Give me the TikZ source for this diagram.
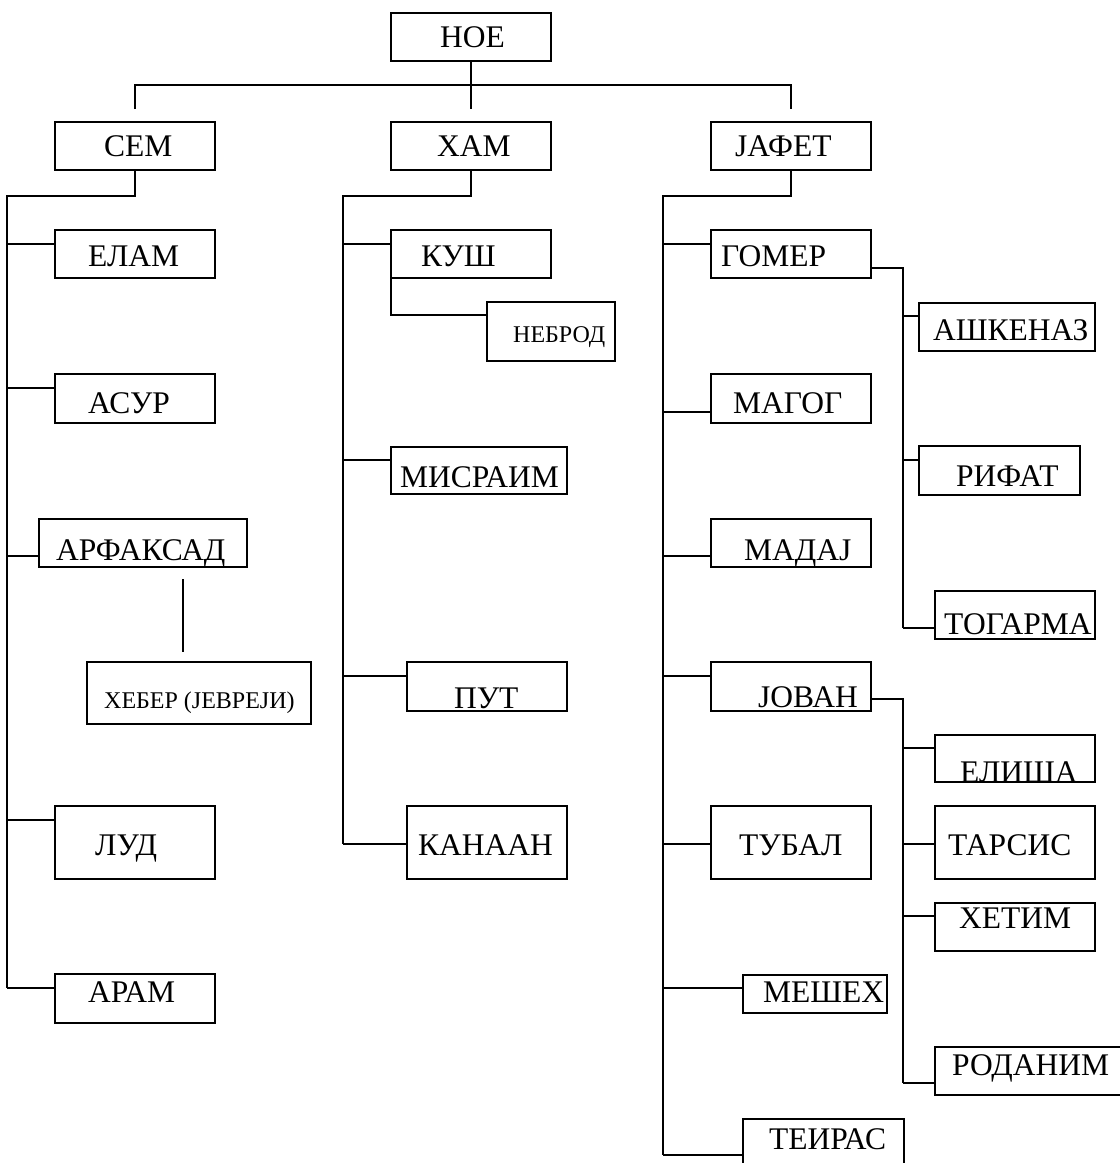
\documentclass[tikz,border=0pt]{standalone}
\usepackage{fontspec}
\setmainfont{Liberation Serif}
\begin{document}
\begin{tikzpicture}[x=1pt,y=-1pt,
  box/.style={draw,line width=2pt,inner sep=0pt,outer sep=0pt},
  lbl/.style={anchor=base west,inner sep=0pt,font=\fontsize{31.5}{36}\selectfont},
  slbl/.style={anchor=base west,inner sep=0pt,font=\fontsize{24}{28}\selectfont},
  conn/.style={line width=2pt}]
\useasboundingbox (0,0) rectangle (1120,1163);
% boxes
\node[box,minimum width=160,minimum height=48] (noe) at (471,37) {};
\node[box,minimum width=160,minimum height=48] (sem) at (135,146) {};
\node[box,minimum width=160,minimum height=48] (ham) at (471,146) {};
\node[box,minimum width=160,minimum height=48] (jafet) at (791,146) {};
\node[box,minimum width=160,minimum height=48] (elam) at (135,254) {};
\node[box,minimum width=160,minimum height=48] (kush) at (471,254) {};
\node[box,minimum width=160,minimum height=48] (gomer) at (791,254) {};
\node[box,minimum width=128,minimum height=59] (nebrod) at (551,331.5) {};
\node[box,minimum width=176,minimum height=48] (ashkenaz) at (1007,327) {};
\node[box,minimum width=160,minimum height=49] (asur) at (135,398.5) {};
\node[box,minimum width=160,minimum height=49] (magog) at (791,398.5) {};
\node[box,minimum width=176,minimum height=47] (misraim) at (479,470.5) {};
\node[box,minimum width=161,minimum height=49] (rifat) at (999.5,470.5) {};
\node[box,minimum width=208,minimum height=48] (arfaksad) at (143,543) {};
\node[box,minimum width=160,minimum height=48] (madaj) at (791,543) {};
\node[box,minimum width=160,minimum height=48] (togarma) at (1015,615) {};
\node[box,minimum width=224,minimum height=62] (heber) at (199,693) {};
\node[box,minimum width=160,minimum height=49] (put) at (487,686.5) {};
\node[box,minimum width=160,minimum height=49] (jovan) at (791,686.5) {};
\node[box,minimum width=160,minimum height=47] (elisha) at (1015,758.5) {};
\node[box,minimum width=160,minimum height=73] (lud) at (135,842.5) {};
\node[box,minimum width=160,minimum height=73] (kanaan) at (487,842.5) {};
\node[box,minimum width=160,minimum height=73] (tubal) at (791,842.5) {};
\node[box,minimum width=160,minimum height=73] (tarsis) at (1015,842.5) {};
\node[box,minimum width=160,minimum height=48] (hetim) at (1015,927) {};
\node[box,minimum width=160,minimum height=49] (aram) at (135,998.5) {};
\node[box,minimum width=144,minimum height=38] (meshekh) at (815,994) {};
\node[box,minimum width=190,minimum height=48] (rodanim) at (1030,1071) {};
\node[box,minimum width=161,minimum height=71] (teiras) at (823.5,1154.5) {};
% labels
\node[lbl] (t-noe) at (440,47) {НОЕ};
\node[lbl] (t-sem) at (104,156) {СЕМ};
\node[lbl] (t-ham) at (437,156) {ХАМ};
\node[lbl] (t-jafet) at (735,156) {ЈАФЕТ};
\node[lbl] (t-elam) at (88,266) {ЕЛАМ};
\node[lbl] (t-kush) at (421,266) {КУШ};
\node[lbl] (t-gomer) at (721,266) {ГОМЕР};
\node[slbl] (t-nebrod) at (513,342) {НЕБРОД};
\node[lbl] (t-ashkenaz) at (933,340) {АШКЕНАЗ};
\node[lbl] (t-asur) at (88,413) {АСУР};
\node[lbl] (t-magog) at (733,413) {МАГОГ};
\node[lbl] (t-misraim) at (400,487) {МИСРАИМ};
\node[lbl] (t-rifat) at (956,486) {РИФАТ};
\node[lbl] (t-arfaksad) at (56,560) {АРФАКСАД};
\node[lbl] (t-madaj) at (744,560) {МАДАЈ};
\node[lbl] (t-togarma) at (944,634) {ТОГАРМА};
\node[slbl] (t-heber) at (104,708) {ХЕБЕР (ЈЕВРЕЈИ)};
\node[lbl] (t-put) at (454,708) {ПУТ};
\node[lbl] (t-jovan) at (758,707) {ЈОВАН};
\node[lbl] (t-elisha) at (960,782) {ЕЛИША};
\node[lbl] (t-lud) at (95,855) {ЛУД};
\node[lbl] (t-kanaan) at (418,855) {КАНААН};
\node[lbl] (t-tubal) at (739,855) {ТУБАЛ};
\node[lbl] (t-tarsis) at (948,855) {ТАРСИС};
\node[lbl] (t-hetim) at (959,928) {ХЕТИМ};
\node[lbl] (t-aram) at (88,1002) {АРАМ};
\node[lbl] (t-meshekh) at (763,1002) {МЕШЕХ};
\node[lbl] (t-rodanim) at (952,1075) {РОДАНИМ};
\node[lbl] (t-teiras) at (769,1149) {ТЕИРАС};
% coordinates
\coordinate (bus) at (471,85);
\coordinate (semtick) at (135,109);
\coordinate (hamtick) at (471,109);
\coordinate (jaftick) at (791,109);
\coordinate (sspine) at (7,196);
\coordinate (hspine) at (343,196);
\coordinate (jspine) at (663,196);
\coordinate (gspine) at (903,268);
\coordinate (vspine) at (903,699);
\coordinate (a1) at (183,579);
\coordinate (a2) at (183,652);
% top connectors
\draw[conn] (noe.south) -- (hamtick);
\draw[conn] (semtick) |- (bus) -| (jaftick);
% SEM
\draw[conn] (sem.south) |- (sspine) -- (sspine |- 0,988);
\draw[conn] (sspine |- 0,244) -- (elam.west |- 0,244);
\draw[conn] (sspine |- 0,388) -- (asur.west |- 0,388);
\draw[conn] (sspine |- 0,556) -- (arfaksad.west |- 0,556);
\draw[conn] (sspine |- 0,820) -- (lud.west |- 0,820);
\draw[conn] (sspine |- 0,988) -- (aram.west |- 0,988);
\draw[line width=1.6pt] (a1) -- (a2);
% HAM
\draw[conn] (ham.south) |- (hspine) -- (hspine |- 0,844);
\draw[conn] (hspine |- 0,244) -- (kush.west |- 0,244);
\draw[conn] (kush.south west) |- (nebrod.west |- 0,315);
\draw[conn] (hspine |- 0,460) -- (misraim.west |- 0,460);
\draw[conn] (hspine |- 0,676) -- (put.west |- 0,676);
\draw[conn] (hspine |- 0,844) -- (kanaan.west |- 0,844);
% JAFET
\draw[conn] (jafet.south) |- (jspine) -- (jspine |- 0,1155);
\draw[conn] (jspine |- 0,244) -- (gomer.west |- 0,244);
\draw[conn] (jspine |- 0,412) -- (magog.west |- 0,412);
\draw[conn] (jspine |- 0,556) -- (madaj.west |- 0,556);
\draw[conn] (jspine |- 0,676) -- (jovan.west |- 0,676);
\draw[conn] (jspine |- 0,844) -- (tubal.west |- 0,844);
\draw[conn] (jspine |- 0,988) -- (meshekh.west |- 0,988);
\draw[conn] (jspine |- 0,1155) -- (teiras.west |- 0,1155);
% GOMER
\draw[conn] (gomer.east |- gspine) -- (gspine) -- (gspine |- 0,628);
\draw[conn] (gspine |- 0,316) -- (ashkenaz.west |- 0,316);
\draw[conn] (gspine |- 0,460) -- (rifat.west |- 0,460);
\draw[conn] (gspine |- 0,628) -- (togarma.west |- 0,628);
% JOVAN
\draw[conn] (jovan.east |- vspine) -- (vspine) -- (vspine |- 0,1083);
\draw[conn] (vspine |- 0,748) -- (elisha.west |- 0,748);
\draw[conn] (vspine |- 0,844) -- (tarsis.west |- 0,844);
\draw[conn] (vspine |- 0,916) -- (hetim.west |- 0,916);
\draw[conn] (vspine |- 0,1083) -- (rodanim.west |- 0,1083);
\end{tikzpicture}
\end{document}
